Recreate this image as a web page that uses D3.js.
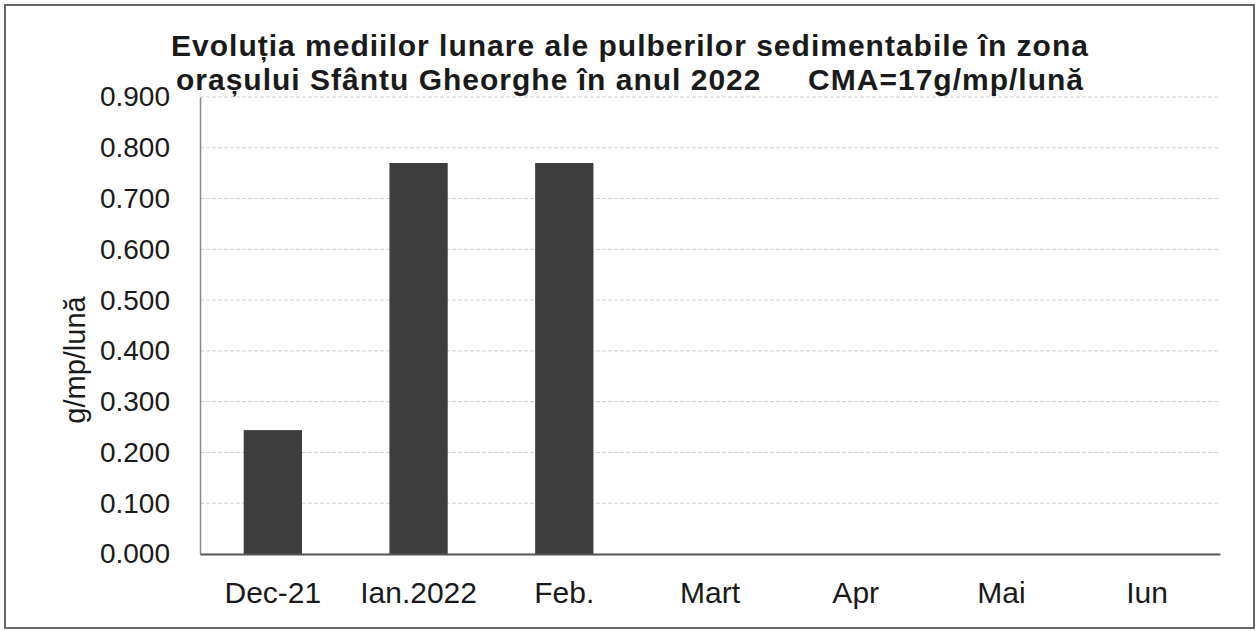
<!DOCTYPE html>
<meta charset="utf-8">
<style>
body { margin: 0; background: #fff; }
text { font-family: "Liberation Sans", Arial, sans-serif; fill: #1a1a1a; }
</style>
<body>
<svg width="1258" height="631"></svg>
<script src="https://cdn.jsdelivr.net/npm/d3@7"></script>
<script>
var months = ["Dec-21", "Ian.2022", "Feb.", "Mart", "Apr", "Mai", "Iun"];
var values = [0.244, 0.770, 0.770, null, null, null, null];
var yTicks = [0, 0.1, 0.2, 0.3, 0.4, 0.5, 0.6, 0.7, 0.8, 0.9];
var titleLines = ["Evoluția mediilor lunare ale pulberilor sedimentabile în zona",
                  "orașului Sfântu Gheorghe în anul 2022     CMA=17g/mp/lună"];

var svg = d3.select("svg");
var margin = {top: 97, right: 38, bottom: 77, left: 200};
var width = 1258 - margin.left - margin.right;
var height = 631 - margin.top - margin.bottom;

// outer frame
svg.append("rect")
   .attr("x", 5).attr("y", 5)
   .attr("width", 1249).attr("height", 623)
   .attr("fill", "none")
   .attr("stroke", "#666")
   .attr("stroke-width", 2);

var x = d3.scaleBand().domain(months).range([0, width]).paddingInner(0.6).paddingOuter(0.3);
var y = d3.scaleLinear().domain([0, 0.9]).range([height, 0]);

var g = svg.append("g").attr("transform", "translate(" + margin.left + "," + margin.top + ")");

// gridlines
g.append("g")
 .selectAll("line")
 .data(yTicks.slice(1))
 .enter().append("line")
 .attr("x1", 0).attr("x2", width)
 .attr("y1", function(d) { return y(d); })
 .attr("y2", function(d) { return y(d); })
 .attr("stroke", "#cfcfcf")
 .attr("stroke-width", 1)
 .attr("stroke-dasharray", "4,2");

// y axis
var yAxis = g.append("g")
 .call(d3.axisLeft(y).tickValues(yTicks).tickFormat(d3.format(".3f")).tickSize(0).tickPadding(30));
yAxis.select(".domain").attr("stroke", "#888").attr("stroke-width", 1.5);
yAxis.selectAll("text").style("font-size", "28px").attr("fill", "#1a1a1a");

// bars
g.selectAll(".bar")
 .data(months.map(function(m, i) { return {m: m, v: values[i]}; }).filter(function(d) { return d.v != null; }))
 .enter().append("rect")
 .attr("class", "bar")
 .attr("x", function(d) { return x(d.m); })
 .attr("y", function(d) { return y(d.v); })
 .attr("width", x.bandwidth())
 .attr("height", function(d) { return height - y(d.v); })
 .attr("fill", "#3d3d3d");

// x axis
var xAxis = g.append("g")
 .attr("transform", "translate(0," + height + ")")
 .call(d3.axisBottom(x).tickSize(0).tickPadding(28));
xAxis.select(".domain").attr("stroke", "#555").attr("stroke-width", 2);
xAxis.selectAll("text").style("font-size", "30px").attr("fill", "#1a1a1a");

// y label
svg.append("text")
   .attr("transform", "translate(85,360) rotate(-90)")
   .attr("text-anchor", "middle")
   .style("font-size", "29px")
   .text("g/mp/lună");

// title
svg.selectAll(".title")
   .data(titleLines)
   .enter().append("text")
   .attr("class", "title")
   .attr("x", 630)
   .attr("y", function(d, i) { return 56 + i * 34; })
   .attr("text-anchor", "middle")
   .attr("xml:space", "preserve")
   .style("white-space", "pre")
   .style("font-size", "30px")
   .style("letter-spacing", "1px")
   .style("font-weight", "bold")
   .text(function(d) { return d; });
</script>
</body>
